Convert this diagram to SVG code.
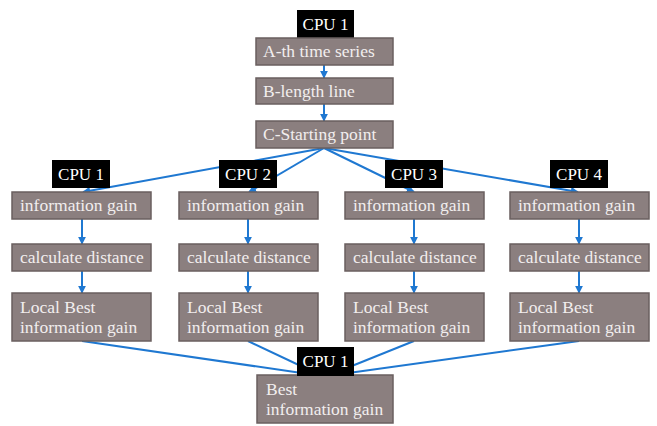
<svg xmlns="http://www.w3.org/2000/svg" width="657" height="426" viewBox="0 0 657 426">
<defs>
<style>
.box{fill:#8b7f7f;stroke:#6a5f5f;stroke-width:1.5}
.cpu{fill:#000}
.t{font-family:"Liberation Serif","DejaVu Serif",serif;font-size:17.5px;fill:#f2eeee}
.ct{font-family:"Liberation Serif","DejaVu Serif",serif;font-size:17px;fill:#fff;text-anchor:middle}
.ln{stroke:#1f78d1;stroke-width:2;fill:none}
.ar{stroke:#1f78d1;stroke-width:2;fill:none;marker-end:url(#ah)}
</style>
<marker id="ah" viewBox="0 0 10 10" refX="9" refY="5" markerWidth="4" markerHeight="4" orient="auto">
<path d="M0,0 L10,5 L0,10 z" fill="#1f78d1"/>
</marker>
</defs>
<g id="connectors">
<path class="ar" d="M324,65 V78"/>
<path class="ar" d="M324,104 V121"/>
<path class="ar" d="M324,148 L83,192"/>
<path class="ar" d="M324,148 L249,192"/>
<path class="ar" d="M324,148 L414,192"/>
<path class="ar" d="M324,148 L578,192"/>
<path class="ar" d="M82,219 V244"/>
<path class="ar" d="M82,271 V293"/>
<path class="ar" d="M248,219 V244"/>
<path class="ar" d="M248,271 V293"/>
<path class="ar" d="M414,219 V244"/>
<path class="ar" d="M414,271 V293"/>
<path class="ar" d="M579,219 V244"/>
<path class="ar" d="M579,271 V293"/>
<path class="ar" d="M82,341 L322,376"/>
<path class="ar" d="M248,341 L322,376"/>
<path class="ar" d="M414,341 L327,376"/>
<path class="ar" d="M579,341 L327,376"/>
</g>
<g id="cpu-top"><rect class="cpu" x="297" y="10" width="57" height="28"/><text class="ct" x="325.5" y="30">CPU 1</text></g>
<g id="a-series"><rect class="box" x="256" y="38" width="137" height="27"/><text class="t" x="263" y="57">A-th time series</text></g>
<g id="b-length"><rect class="box" x="256" y="78" width="137" height="26"/><text class="t" x="263" y="97">B-length line</text></g>
<g id="c-start"><rect class="box" x="256" y="121" width="137" height="27"/><text class="t" x="263" y="140">C-Starting point</text></g>

<g id="cpu1"><rect class="cpu" x="52" y="160" width="58" height="28"/><text class="ct" x="81" y="180">CPU 1</text></g>
<g id="cpu2"><rect class="cpu" x="219" y="160" width="58" height="28"/><text class="ct" x="248" y="180">CPU 2</text></g>
<g id="cpu3"><rect class="cpu" x="385" y="160" width="58" height="28"/><text class="ct" x="414" y="180">CPU 3</text></g>
<g id="cpu4"><rect class="cpu" x="550" y="160" width="58" height="28"/><text class="ct" x="579" y="180">CPU 4</text></g>

<g id="ig1"><rect class="box" x="12" y="192" width="139" height="27"/><text class="t" x="20" y="211">information gain</text></g>
<g id="ig2"><rect class="box" x="179" y="192" width="139" height="27"/><text class="t" x="187" y="211">information gain</text></g>
<g id="ig3"><rect class="box" x="345" y="192" width="139" height="27"/><text class="t" x="353" y="211">information gain</text></g>
<g id="ig4"><rect class="box" x="510" y="192" width="139" height="27"/><text class="t" x="518" y="211">information gain</text></g>

<g id="cd1"><rect class="box" x="12" y="244" width="139" height="27"/><text class="t" x="20" y="263">calculate distance</text></g>
<g id="cd2"><rect class="box" x="179" y="244" width="139" height="27"/><text class="t" x="187" y="263">calculate distance</text></g>
<g id="cd3"><rect class="box" x="345" y="244" width="139" height="27"/><text class="t" x="353" y="263">calculate distance</text></g>
<g id="cd4"><rect class="box" x="510" y="244" width="139" height="27"/><text class="t" x="518" y="263">calculate distance</text></g>

<g id="lb1"><rect class="box" x="12" y="293" width="139" height="48"/><text class="t" x="20" y="313">Local Best</text><text class="t" x="20" y="333">information gain</text></g>
<g id="lb2"><rect class="box" x="179" y="293" width="139" height="48"/><text class="t" x="187" y="313">Local Best</text><text class="t" x="187" y="333">information gain</text></g>
<g id="lb3"><rect class="box" x="345" y="293" width="139" height="48"/><text class="t" x="353" y="313">Local Best</text><text class="t" x="353" y="333">information gain</text></g>
<g id="lb4"><rect class="box" x="510" y="293" width="139" height="48"/><text class="t" x="518" y="313">Local Best</text><text class="t" x="518" y="333">information gain</text></g>

<g id="best"><rect class="box" x="257" y="375" width="136" height="48"/><text class="t" x="266" y="395">Best</text><text class="t" x="266" y="415">information gain</text></g>
<g id="cpu-bottom"><rect class="cpu" x="297" y="347" width="57" height="29"/><text class="ct" x="325.5" y="367">CPU 1</text></g>
</svg>
